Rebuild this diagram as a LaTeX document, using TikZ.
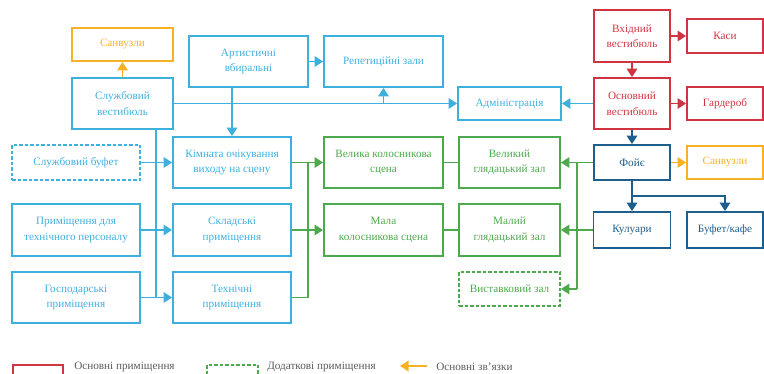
\documentclass[tikz,border=0pt]{standalone}
\usepackage{fontspec}
\setmainfont{Liberation Serif}
\usetikzlibrary{arrows.meta}
\definecolor{lblue}{RGB}{62,176,222}
\definecolor{grn}{RGB}{76,170,76}
\definecolor{rd}{RGB}{208,52,64}
\definecolor{dblue}{RGB}{30,94,140}
\definecolor{orng}{RGB}{246,178,36}
\definecolor{lgray}{RGB}{90,90,90}

\begin{document}
\begin{tikzpicture}[x=1pt,y=-1pt,line width=1.9pt,
  room/.style={draw,rectangle,inner sep=0pt,align=center,
    font=\fontsize{11.2}{15.5}\selectfont},
  extra/.style={room,dash pattern=on 3.5pt off 2pt},
  link/.style={-{Triangle[length=8.5pt,width=10.5pt]}}]
\useasboundingbox (0,0) rectangle (764,374);
% service block
\node[room,orng,minimum width=101,minimum height=33] (sanL) at (122.5,44.5) {Санвузли};
\node[room,lblue,minimum width=101,minimum height=51] (sluzh) at (122.5,103.5) {Службовий\\вестибюль};
\node[room,lblue,minimum width=119,minimum height=51] (art) at (248.5,61.5) {Артистичні\\вбиральні};
\node[room,lblue,minimum width=119,minimum height=51] (rep) at (383.5,61.5) {Репетиційні зали};
\node[room,lblue,minimum width=103,minimum height=33] (adm) at (509.5,103.5) {Адміністрація};
\node[extra,lblue,minimum width=128,minimum height=35] (sbuf) at (76,162.5) {Службовий буфет};
\node[room,lblue,minimum width=128,minimum height=52] (tper) at (76,230) {Приміщення для\\технічного персоналу};
\node[room,lblue,minimum width=128,minimum height=51] (gosp) at (76,297.5) {Господарські\\приміщення};
\node[room,lblue,minimum width=118,minimum height=51] (kimn) at (232,162.5) {Кімната очікування\\виходу на сцену};
\node[room,lblue,minimum width=118,minimum height=52] (sklad) at (232,230) {Складські\\приміщення};
\node[room,lblue,minimum width=118,minimum height=51] (tekh) at (232,297.5) {Технічні\\приміщення};
% stage block
\node[room,grn,minimum width=119,minimum height=51] (velsc) at (383.5,162.5) {Велика колосникова\\сцена};
\node[room,grn,minimum width=119,minimum height=52] (malsc) at (383.5,230) {Мала\\колосникова сцена};
\node[room,grn,minimum width=101,minimum height=51] (velzal) at (509.5,162.5) {Великий\\глядацький зал};
\node[room,grn,minimum width=101,minimum height=52] (malzal) at (509.5,230) {Малий\\глядацький зал};
\node[extra,grn,minimum width=101,minimum height=34] (vyst) at (509.5,289) {Виставковий зал};
% public block
\node[room,rd,minimum width=76,minimum height=52] (vkh) at (632,36) {Вхідний\\вестибюль};
\node[room,rd,minimum width=76,minimum height=34] (kasy) at (725,36) {Каси};
\node[room,rd,minimum width=76,minimum height=51] (osn) at (632,103.5) {Основний\\вестибюль};
\node[room,rd,minimum width=76,minimum height=33] (gard) at (725,103.5) {Гардероб};
\node[room,dblue,minimum width=76,minimum height=35] (foye) at (632,162.5) {Фойє};
\node[room,orng,minimum width=76,minimum height=33] (sanR) at (725,162.5) {Санвузли};
\node[room,dblue,minimum width=77,minimum height=36] (kul) at (632,230) {Кулуари};
\node[room,dblue,minimum width=76,minimum height=36] (bufet) at (725,230) {Буфет/кафе};
% trunks
\coordinate (trB) at (156,0);
\coordinate (trG) at (308,0);
\coordinate (trR) at (577,0);
\coordinate (trD) at (0,196);
% blue links
\draw[orng,link] (sluzh.north) -- (sanL.south);
\draw[lblue,link] (sluzh.east) -- (adm.west);
\draw[lblue,link] (rep.south |- sluzh.east) -- (rep.south);
\draw[lblue,link] (art.east) -- (rep.west);
\draw[lblue,link] (kimn.north |- art.south) -- (kimn.north);
\draw[lblue] (sluzh.south -| trB) -- (gosp.east -| trB);
\draw[lblue,link] (sbuf.east) -- (kimn.west);
\draw[lblue,link] (tper.east) -- (sklad.west);
\draw[lblue,link] (gosp.east) -- (tekh.west);
% green links
\draw[grn,link] (kimn.east) -- (velsc.west);
\draw[grn,link] (sklad.east) -- (malsc.west);
\draw[grn] (tekh.east) -- (tekh.east -| trG) -- (kimn.east -| trG);
\draw[grn] (velsc.east) -- (velzal.west);
\draw[grn] (malsc.east) -- (malzal.west);
\draw[grn,link] (foye.west) -- (velzal.east);
\draw[grn,link] (kul.west) -- (malzal.east);
\draw[grn] (foye.west -| trR) -- (vyst.east -| trR);
\draw[grn,link] (vyst.east -| trR) -- (vyst.east);
% public links
\draw[rd,link] (vkh.south) -- (osn.north);
\draw[rd,link] (vkh.east) -- (kasy.west);
\draw[rd,link] (osn.east) -- (gard.west);
\draw[lblue,link] (osn.west) -- (adm.east);
\draw[dblue,link] (osn.south) -- (foye.north);
\draw[orng,link] (foye.east) -- (sanR.west);
\draw[dblue,link] (foye.south) -- (kul.north);
\draw[dblue,link] (foye.south |- trD) -| (bufet.north);
% legend
\node[draw=rd,rectangle,minimum width=50,minimum height=13,inner sep=0pt] (legA) at (38,371.5) {};
\node[anchor=west,lgray,font=\fontsize{11.2}{13}\selectfont] (legAt) at (70,367) {Основні приміщення};
\node[draw=grn,dash pattern=on 3.5pt off 2pt,rectangle,minimum width=51,minimum height=13,inner sep=0pt] (legB) at (232.5,371.5) {};
\node[anchor=west,lgray,font=\fontsize{11.2}{13}\selectfont] (legBt) at (263,367) {Додаткові приміщення};
\coordinate (legCa) at (427,366);
\node[anchor=west,lgray,font=\fontsize{11.2}{13}\selectfont] (legCt) at (432,367) {Основні зв'язки};
\draw[orng,link] (legCa) -- ++(-27,0);
\end{tikzpicture}
\end{document}
